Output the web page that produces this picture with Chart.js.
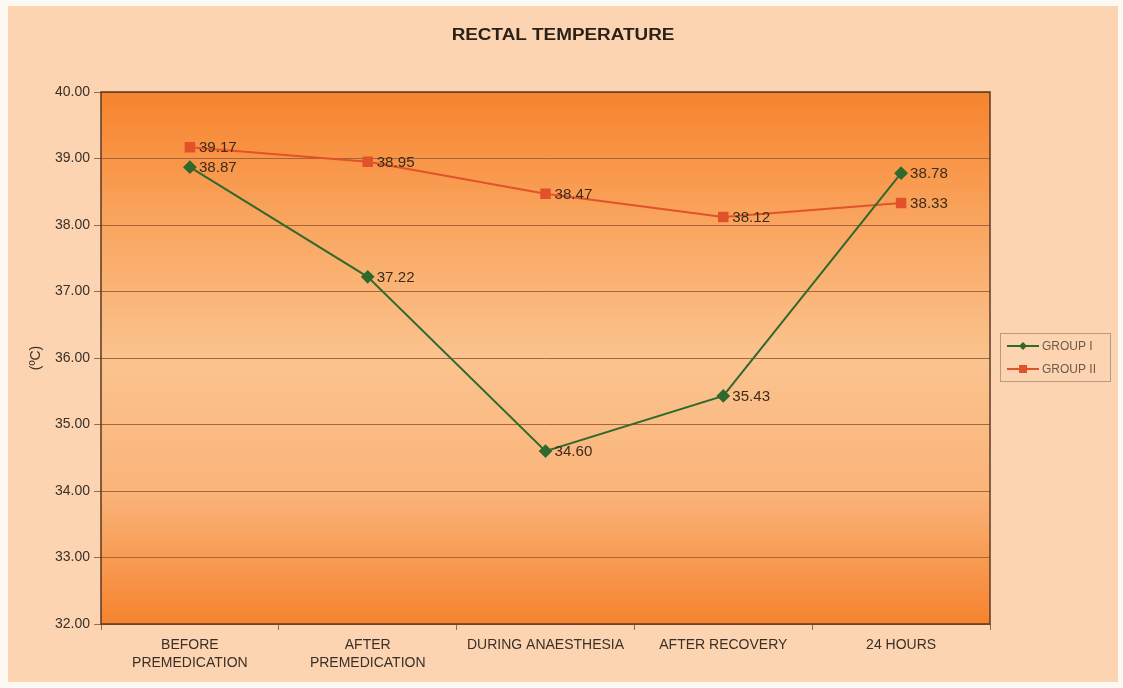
<!DOCTYPE html>
<html>
<head>
<meta charset="utf-8">
<title>Rectal Temperature</title>
<script src="https://cdn.jsdelivr.net/npm/chart.js@4/dist/chart.umd.min.js"></script>
<style>
  html, body { margin: 0; padding: 0; background: #fdf8f2; }
  #wrap { width: 1123px; height: 688px; position: relative; }
  canvas { display: block; }
</style>
</head>
<body>
<div id="wrap"><canvas id="chart" width="1123" height="688"></canvas></div>
<script>
// Time points of measurement
const categories = [
  ['BEFORE', 'PREMEDICATION'],
  ['AFTER', 'PREMEDICATION'],
  'DURING ANAESTHESIA',
  'AFTER RECOVERY',
  '24 HOURS'
];
// Mean rectal temperature (°C)
const groupI  = [38.87, 37.22, 34.60, 35.43, 38.78];
const groupII = [39.17, 38.95, 38.47, 38.12, 38.33];
const seriesNames = ['GROUP I', 'GROUP II'];
const yTicks = [32, 33, 34, 35, 36, 37, 38, 39, 40];

const FONT = '"Liberation Sans", Arial, sans-serif';
const GREEN = '#2f6a2c';
const RED = '#e2522a';

// Draw text with a slight horizontal stretch
function wideText(ctx, text, x, y, sx) {
  ctx.save();
  ctx.translate(x, y);
  ctx.scale(sx, 1);
  ctx.fillText(text, 0, 0);
  ctx.restore();
}

// Panel background, plot gradient, border, titles
const backdrop = {
  id: 'backdrop',
  beforeDraw(chart) {
    const { ctx, chartArea: a } = chart;
    ctx.save();
    ctx.fillStyle = '#fdf8f2';
    ctx.fillRect(0, 0, chart.width, chart.height);
    ctx.fillStyle = '#fdd4b1';
    ctx.fillRect(8, 6, 1110, 676);
    const g = ctx.createLinearGradient(0, a.top, 0, a.bottom);
    g.addColorStop(0, '#f7832d');
    g.addColorStop(0.22, '#f9a25a');
    g.addColorStop(0.5, '#fbc38f');
    g.addColorStop(0.75, '#fab47a');
    g.addColorStop(1, '#f6832e');
    ctx.fillStyle = g;
    ctx.fillRect(a.left, a.top, a.right - a.left, a.bottom - a.top);
    ctx.restore();
  },
  afterDraw(chart) {
    const { ctx, chartArea: a } = chart;
    ctx.save();
    ctx.strokeStyle = '#5b3a22';
    ctx.lineWidth = 1.5;
    ctx.strokeRect(a.left, a.top, a.right - a.left, a.bottom - a.top);
    // chart title
    ctx.fillStyle = '#2b2118';
    ctx.font = 'bold 16px ' + FONT;
    ctx.textAlign = 'center';
    ctx.textBaseline = 'middle';
    wideText(ctx, 'RECTAL TEMPERATURE', 563, 36, 1.18);
    // value axis title
    ctx.font = '14px ' + FONT;
    ctx.fillStyle = '#3a3028';
    ctx.translate(36, 358);
    ctx.rotate(-Math.PI / 2);
    ctx.fillText('(ºC)', 0, 0);
    ctx.restore();
  }
};

// Value labels beside each marker
const valueLabels = {
  id: 'valueLabels',
  afterDatasetsDraw(chart) {
    const { ctx } = chart;
    ctx.save();
    ctx.font = '14px ' + FONT;
    ctx.fillStyle = '#3d2c1c';
    ctx.textAlign = 'left';
    ctx.textBaseline = 'middle';
    chart.data.datasets.forEach((ds, i) => {
      const meta = chart.getDatasetMeta(i);
      meta.data.forEach((pt, j) => {
        wideText(ctx, ds.data[j].toFixed(2), pt.x + 9, pt.y + 1, 1.08);
      });
    });
    ctx.restore();
  }
};

// Legend box on the right
const sideLegend = {
  id: 'sideLegend',
  afterDraw(chart) {
    const { ctx } = chart;
    const x0 = 1000, y0 = 333, w = 110, h = 48;
    ctx.save();
    ctx.strokeStyle = '#b89a82';
    ctx.lineWidth = 1;
    ctx.strokeRect(x0 + 0.5, y0 + 0.5, w, h);
    ctx.font = '12px ' + FONT;
    ctx.textBaseline = 'middle';
    ctx.textAlign = 'left';
    chart.data.datasets.forEach((ds, i) => {
      const y = y0 + 13 + i * 23;
      ctx.strokeStyle = ds.borderColor;
      ctx.lineWidth = 2;
      ctx.beginPath();
      ctx.moveTo(x0 + 7, y);
      ctx.lineTo(x0 + 39, y);
      ctx.stroke();
      ctx.fillStyle = ds.borderColor;
      if (ds.pointStyle === 'rectRot') {
        ctx.beginPath();
        ctx.moveTo(x0 + 23, y - 4);
        ctx.lineTo(x0 + 27, y);
        ctx.lineTo(x0 + 23, y + 4);
        ctx.lineTo(x0 + 19, y);
        ctx.closePath();
        ctx.fill();
      } else {
        ctx.fillRect(x0 + 19, y - 4, 8, 8);
      }
      ctx.fillStyle = '#6e5a48';
      ctx.fillText(ds.label, x0 + 42, y + 1);
    });
    ctx.restore();
  }
};

new Chart(document.getElementById('chart'), {
  type: 'line',
  data: {
    labels: categories,
    datasets: [
      {
        label: seriesNames[0],
        data: groupI,
        borderColor: GREEN,
        backgroundColor: GREEN,
        borderWidth: 2,
        pointStyle: 'rectRot',
        pointRadius: 5.5,
        pointHoverRadius: 5.5,
        tension: 0
      },
      {
        label: seriesNames[1],
        data: groupII,
        borderColor: RED,
        backgroundColor: RED,
        borderWidth: 2,
        pointStyle: 'rect',
        pointRadius: 6,
        pointHoverRadius: 6,
        tension: 0
      }
    ]
  },
  options: {
    responsive: false,
    animation: false,
    layout: { padding: { left: 0, top: 92, right: 133, bottom: 0 } },
    plugins: {
      legend: { display: false },
      title: { display: false },
      tooltip: { enabled: false }
    },
    scales: {
      x: {
        offset: true,
        grid: {
          offset: true,
          drawOnChartArea: false,
          drawTicks: true,
          tickLength: 6,
          color: '#8a6a50'
        },
        border: { display: false },
        ticks: {
          color: '#3a3028',
          font: { family: FONT, size: 14, lineHeight: 1.3 },
          padding: 6,
          maxRotation: 0,
          autoSkip: false
        },
        afterFit(scale) { scale.height = 64; }
      },
      y: {
        min: 32,
        max: 40,
        afterBuildTicks(scale) { scale.ticks = yTicks.map(v => ({ value: v })); },
        grid: {
          color: '#a8643a',
          lineWidth: 1,
          drawTicks: true,
          tickLength: 7
        },
        border: { display: false },
        ticks: {
          color: '#3a3028',
          font: { family: FONT, size: 14 },
          padding: 4,
          callback: v => Number(v).toFixed(2)
        },
        afterFit(scale) { scale.width = 101; }
      }
    }
  },
  plugins: [backdrop, valueLabels, sideLegend]
});
</script>
</body>
</html>
